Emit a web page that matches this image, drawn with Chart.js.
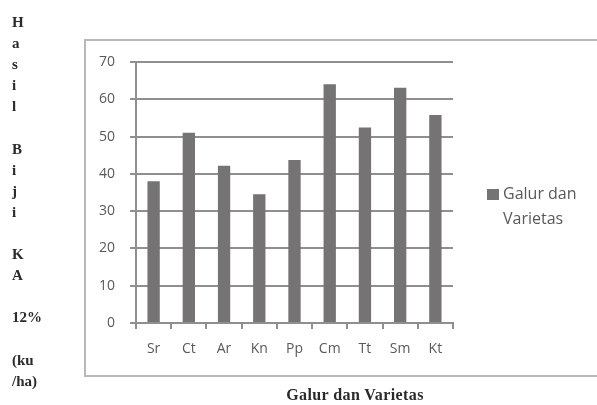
<!DOCTYPE html>
<html><head><meta charset="utf-8">
<script src="https://cdn.jsdelivr.net/npm/chart.js@4"></script>
<style>
html,body{margin:0;padding:0;background:#fff;}
body{width:597px;height:405px;position:relative;overflow:hidden;}
#frame{position:absolute;left:84px;top:39px;width:530px;height:338px;border:2px solid #b8b8b8;box-sizing:border-box;}
#wrap{position:absolute;left:0;top:0;width:597px;height:405px;}
#ytitle{position:absolute;left:12px;top:12px;font:bold 15px "Liberation Serif";line-height:21.1px;color:#2a2a2a;white-space:pre;}
#xtitle{position:absolute;left:255px;width:200px;top:387px;text-align:center;font:bold 16px "Liberation Serif";line-height:16px;letter-spacing:0.4px;color:#2a2a2a;}
#legend{position:absolute;left:487px;top:181px;font:16px "Open Sans";line-height:25px;color:#595959;}
#legend .sw{position:absolute;left:0;top:8px;width:12px;height:11px;background:#757373;}
#legend .tx{position:absolute;left:16px;top:0;white-space:pre;}
</style></head>
<body>
<div id="frame"></div>
<div id="wrap"><canvas id="c" width="597" height="405"></canvas></div>
<div id="ytitle"></div>
<div id="xtitle"></div>
<div id="legend"><div class="sw"></div><div class="tx"></div></div>
<script>
const categories = ["Sr","Ct","Ar","Kn","Pp","Cm","Tt","Sm","Kt"];
const values = [38, 51, 42.2, 34.5, 43.7, 64, 52.4, 63.1, 55.8];
const yTicks = [0,10,20,30,40,50,60,70];
const seriesName = "Galur dan Varietas";
const legendLines = ["Galur dan","Varietas"];
const xTitle = "Galur dan Varietas";
const yTitleLines = ["H","a","s","i","l","","B","i","j","i","","K","A","","12%","","(ku","/ha)"];

document.getElementById('ytitle').textContent = yTitleLines.join("\n");
document.getElementById('xtitle').textContent = xTitle;
document.querySelector('#legend .tx').textContent = legendLines.join("\n");

const gridCol = '#8f8f8f';
new Chart(document.getElementById('c'), {
  type: 'bar',
  data: {
    labels: categories,
    datasets: [{
      label: seriesName,
      data: values,
      backgroundColor: '#757373',
      borderWidth: 0,
      categoryPercentage: 1,
      barPercentage: 0.35
    }]
  },
  options: {
    responsive: false,
    animation: false,
    devicePixelRatio: 1,
    layout: {padding: {left: 84, right: 144, top: 62, bottom: 42}},
    plugins: {legend: {display: false}, tooltip: {enabled: false}, title: {display: false}},
    scales: {
      x: {
        afterFit: s => { s.height = 40; },
        grid: {drawOnChartArea: false, drawTicks: true, tickLength: 6, color: gridCol, lineWidth: 2, offset: true},
        border: {display: true, color: gridCol, width: 2},
        ticks: {color: '#595959', font: {family: 'Open Sans', size: 14}, padding: 12, maxRotation: 0}
      },
      y: {
        min: 0, max: 70,
        afterFit: s => { s.width = 52; },
        afterBuildTicks: s => { s.ticks = yTicks.map(v => ({value: v})); },
        grid: {drawTicks: true, tickLength: 6, color: gridCol, lineWidth: 2},
        border: {display: true, color: gridCol, width: 2},
        ticks: {color: '#595959', font: {family: 'Open Sans', size: 14}, padding: 15}
      }
    }
  }
});
</script>
</body></html>
